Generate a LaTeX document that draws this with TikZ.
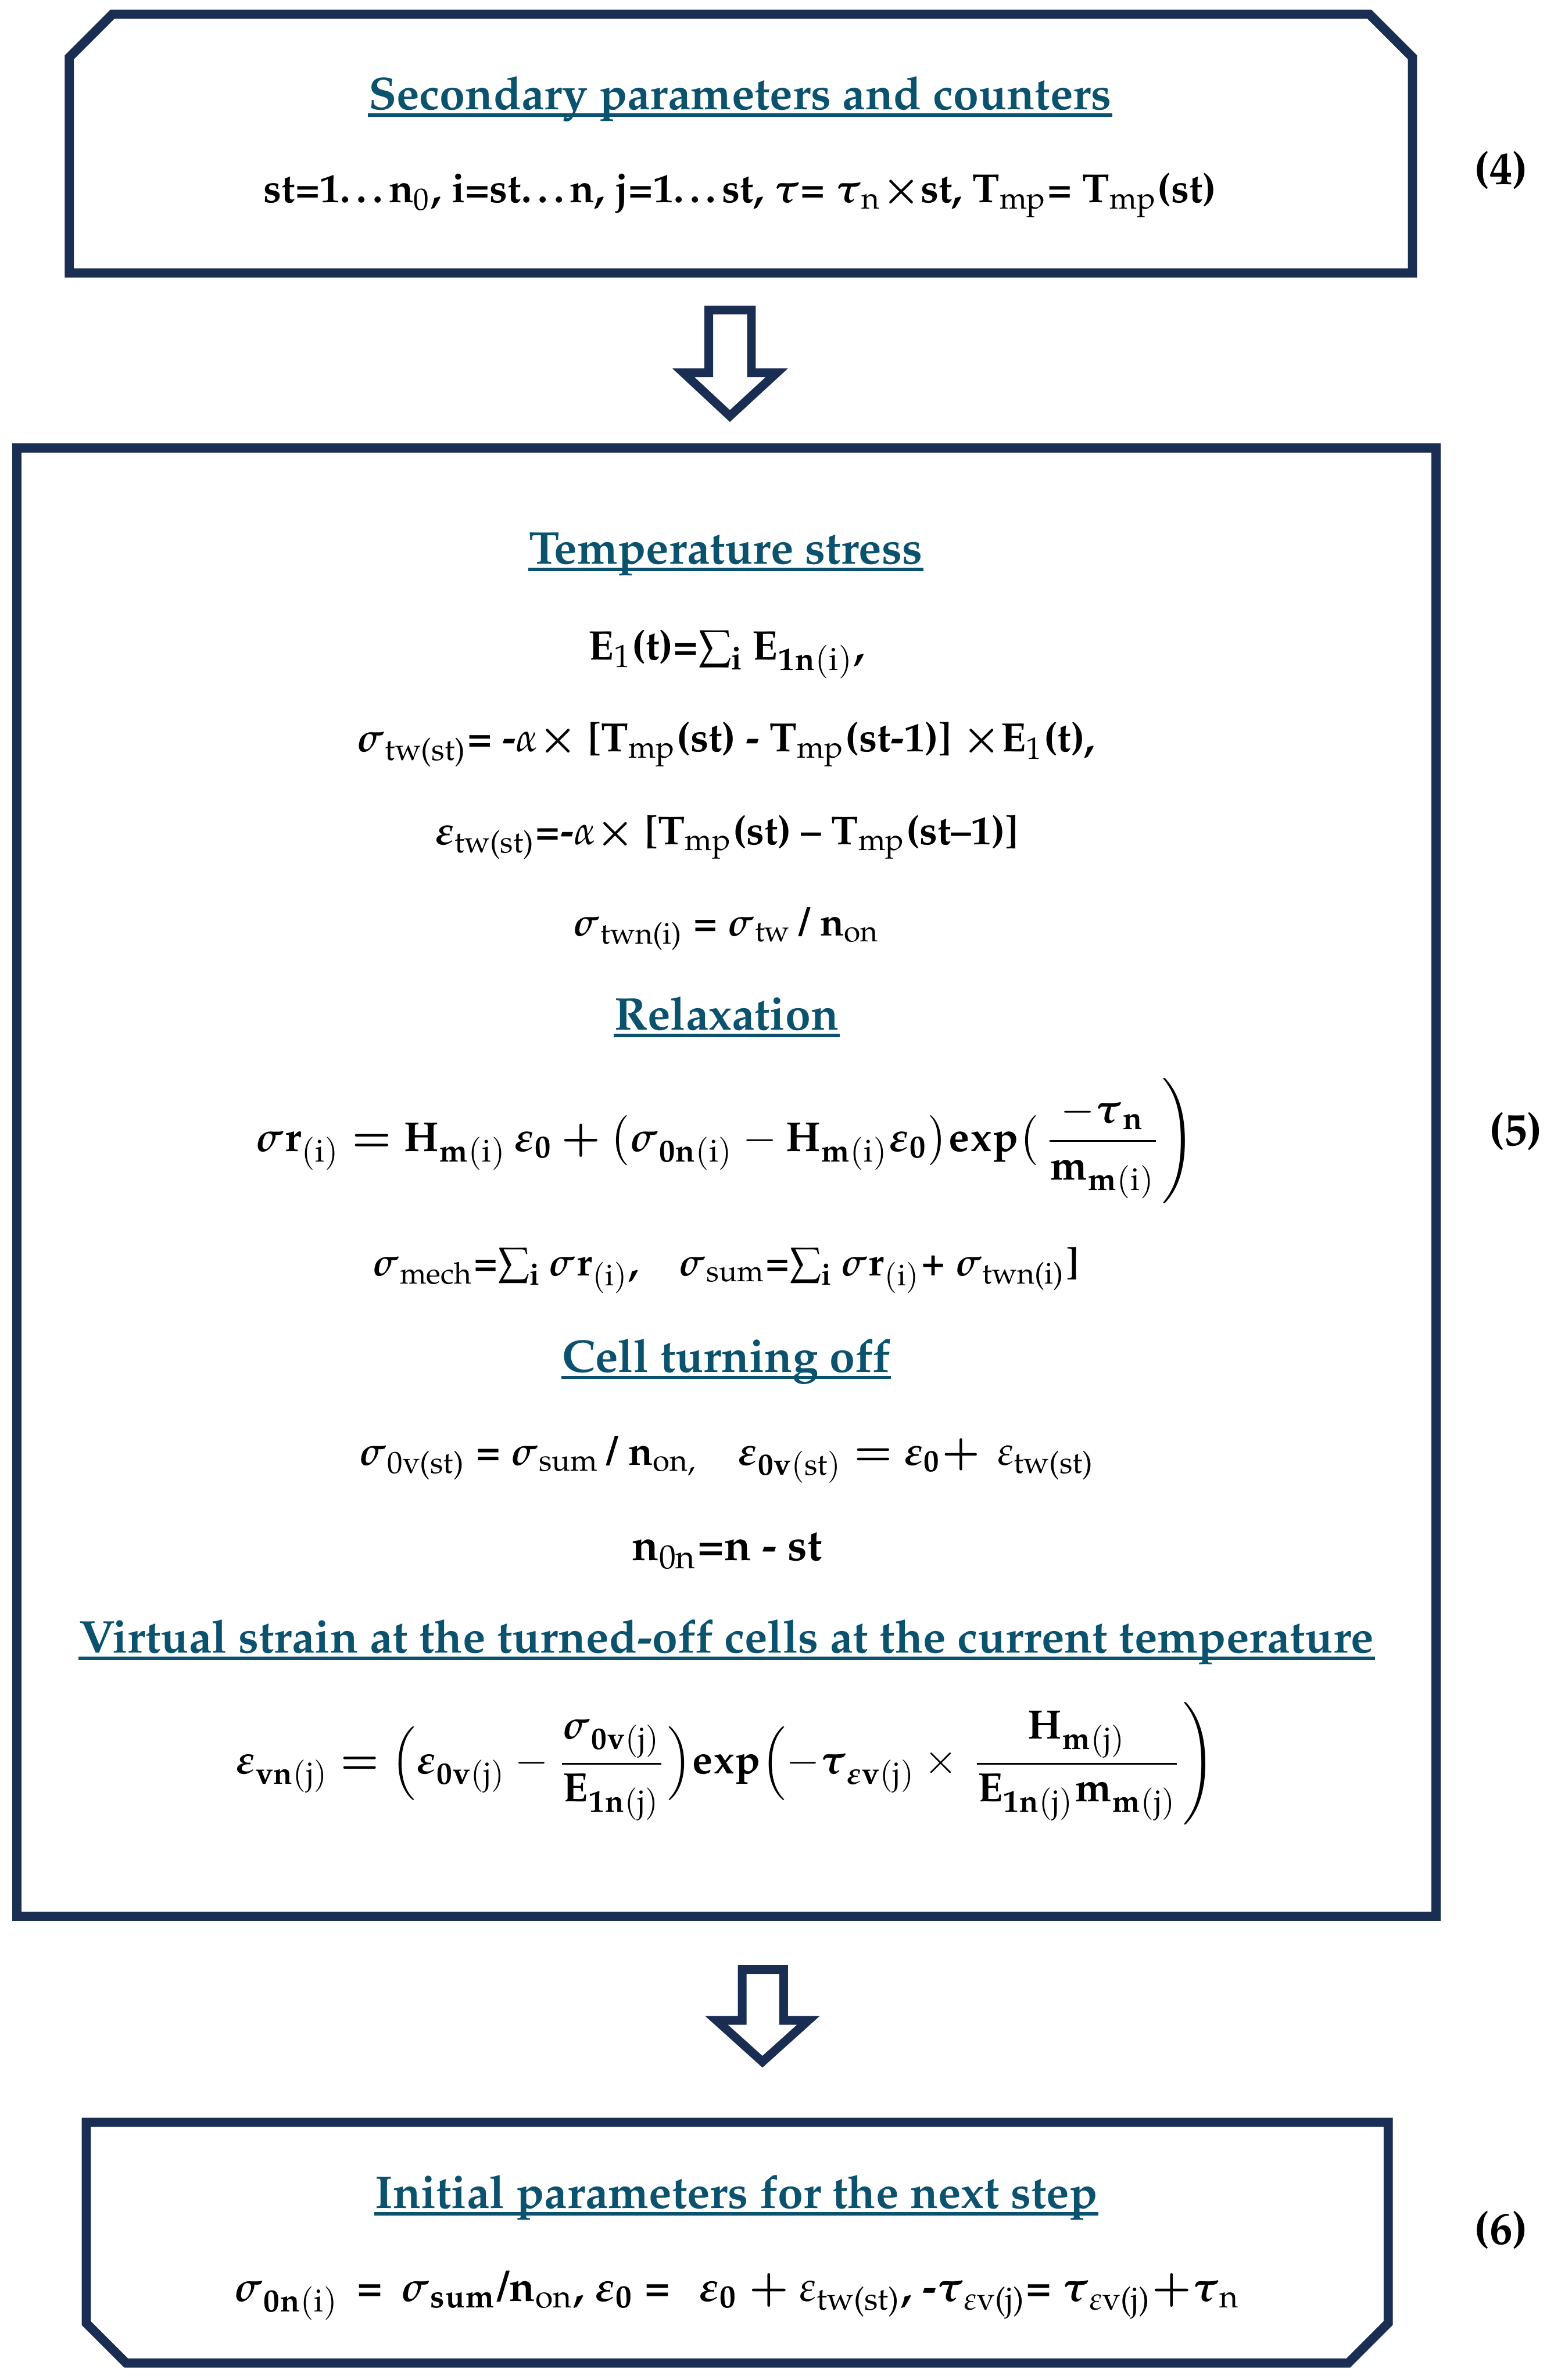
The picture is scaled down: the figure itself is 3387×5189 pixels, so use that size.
\documentclass[tikz,border=0pt]{standalone}
\usepackage[T1]{fontenc}
\usepackage{mathpazo}
\usepackage{amsmath}
\definecolor{navy}{RGB}{26,45,82}
\definecolor{tealtitle}{RGB}{11,82,110}
\newcommand\sbs[1]{\textsubscript{\mdseries #1}}
\newcommand\Sg{\ensuremath{\boldsymbol{\sigma}}}
\newcommand\Ep{\ensuremath{\boldsymbol{\varepsilon}}}
\newcommand\Ta{\ensuremath{\boldsymbol{\tau}}}
\tikzset{
  boxline/.style={draw=navy, line width=2pt, line join=miter},
  ttl/.style={anchor=base, inner sep=0pt, text=tealtitle, font=\fontsize{10}{12}\selectfont\bfseries},
  eqn/.style={anchor=base, inner sep=0pt, font=\fontsize{#1}{12}\selectfont\bfseries},
  eqn/.default=9,
  dispeq/.style={anchor=center, inner sep=0pt, font=\fontsize{#1}{12}\selectfont\bfseries},
  dispeq/.default=9,
  uline/.style={draw=tealtitle, line width=0.75pt},
  blockarrow/.style={draw=navy, line width=1.9pt, fill=white, line join=miter},
  eqno/.style={anchor=center, inner sep=0pt, font=\fontsize{10}{12}\selectfont\bfseries}
}
\begin{document}
\begin{tikzpicture}[x=0.1pt, y=-0.1pt]
\useasboundingbox (0,0) rectangle (3387,5189);

% ---------- Box 1 ----------
\draw[boxline] (151,595) -- (151,125) -- (245,31) -- (2985,31) -- (3079,125) -- (3079,595) -- cycle;
\node[ttl] (t1) at (1613,239) {Secondary parameters and counters};
\draw[uline] ([yshift=-1.2pt]t1.base west) -- ([yshift=-1.2pt]t1.base east);
\node[eqn=8.85] (f1) at (1613,442) {st=1\ldots n\sbs{0}, i=st\ldots n, j=1\ldots st, \Ta= \Ta\sbs{n}$\boldsymbol{\times}$st, T\sbs{mp}= T\sbs{mp}(st)};
\node[eqno] (n4) at (3272,372) {(4)};

% ---------- Arrow 1 ----------
\draw[blockarrow] (1545,676) -- (1638,676) -- (1638,813) -- (1693,813) -- (1591,907) -- (1490,813) -- (1545,813) -- cycle;

% ---------- Box 2 ----------
\draw[boxline] (37,977) rectangle (3130,4178);

\node[ttl] (t2) at (1582,1229) {Temperature stress};
\draw[uline] ([yshift=-1.2pt]t2.base west) -- ([yshift=-1.2pt]t2.base east);
\node[eqn=9] (e1) at (1584,1438) {E\sbs{1}(t)=$\sum_{\mathbf{i}}$\,$\mathbf{E}_{\mathbf{1n}\mathrm{(i)}}$,};
\node[eqn=8.9] (e2) at (1582,1639) {\Sg\sbs{tw(st)}= -$\alpha\boldsymbol{\times}$ [T\sbs{mp}(st) - T\sbs{mp}(st-1)] $\boldsymbol{\times}$E\sbs{1}(t),};
\node[eqn=8.8] (e3) at (1584,1841) {\Ep\sbs{tw(st)}=-$\alpha\boldsymbol{\times}$ [T\sbs{mp}(st) -- T\sbs{mp}(st--1)]};
\node[eqn=8.6] (e4) at (1584,2040) {\Sg\sbs{twn(i)} = \Sg\sbs{tw}\,/ n\sbs{on}};

\node[ttl] (t3) at (1584,2245) {Relaxation};
\draw[uline] ([yshift=-1.2pt]t3.base west) -- ([yshift=-1.2pt]t3.base east);
\node[dispeq=9.1] (r1) at (1581,2487) {$\displaystyle \boldsymbol{\sigma}\mathbf{r}_{\mathrm{(i)}} \boldsymbol{=} \mathbf{H}_{\mathbf{m}\mathrm{(i)}}\,\boldsymbol{\varepsilon}_{\mathbf{0}} \boldsymbol{+} \bigl(\boldsymbol{\sigma}_{\mathbf{0n}\mathrm{(i)}} - \mathbf{H}_{\mathbf{m}\mathrm{(i)}}\boldsymbol{\varepsilon}_{\mathbf{0}}\bigr)\mathbf{exp}\bigl(\left.\frac{-\boldsymbol{\tau}_{\mathbf{n}}}{\mathbf{m}_{\mathbf{m}\mathrm{(i)}}}\right)$};
\node[eqn=8.6] (r2) at (1582,2781) {\Sg\sbs{mech}=$\sum_{\mathbf{i}}\boldsymbol{\sigma}\mathbf{r}_{\mathrm{(i)}}$,\quad \Sg\sbs{sum}=$\sum_{\mathbf{i}}\boldsymbol{\sigma}\mathbf{r}_{\mathrm{(i)}}$+ \Sg\sbs{twn(i)}]};

\node[ttl] (t4) at (1583,2991) {Cell turning off};
\draw[uline] ([yshift=-1.2pt]t4.base west) -- ([yshift=-1.2pt]t4.base east);
\node[eqn=8.8] (c1) at (1585,3194) {\Sg\sbs{0v(st)} = \Sg\sbs{sum}\,/ n\sbs{on,}\quad $\boldsymbol{\varepsilon}_{\mathbf{0v}\mathrm{(st)}} \boldsymbol{=} \boldsymbol{\varepsilon}_{\mathbf{0}} \boldsymbol{+}$\, $\varepsilon$\sbs{tw(st)}};
\node[eqn=9.6] (c2) at (1585,3402) {n\sbs{0n}=n - st};

\node[ttl] (t5) at (1584,3603) {Virtual strain at the turned-off cells at the current temperature};
\draw[uline] ([yshift=-1.2pt]t5.base west) -- ([yshift=-1.2pt]t5.base east);
\node[dispeq=8.9] (v1) at (1582,3845) {$\displaystyle \boldsymbol{\varepsilon}_{\mathbf{vn}\mathrm{(j)}} \boldsymbol{=} \Bigl(\boldsymbol{\varepsilon}_{\mathbf{0v}\mathrm{(j)}} - \frac{\boldsymbol{\sigma}_{\mathbf{0v}\mathrm{(j)}}}{\mathbf{E}_{\mathbf{1n}\mathrm{(j)}}}\Bigr)\mathbf{exp}\Bigl(-\boldsymbol{\tau}_{\boldsymbol{\varepsilon}\mathbf{v}\mathrm{(j)}}\times\left.\frac{\mathbf{H}_{\mathbf{m}\mathrm{(j)}}}{\mathbf{E}_{\mathbf{1n}\mathrm{(j)}}\mathbf{m}_{\mathbf{m}\mathrm{(j)}}}\right)$};
\node[eqno] (n5) at (3304,2467) {(5)};

% ---------- Arrow 2 ----------
\draw[blockarrow] (1618,4294) -- (1708,4294) -- (1708,4405) -- (1762,4405) -- (1662,4495) -- (1562,4405) -- (1618,4405) -- cycle;

% ---------- Box 3 ----------
\draw[boxline] (188,4627) -- (3026,4627) -- (3026,5065) -- (2939,5152) -- (275,5152) -- (188,5065) -- cycle;
\node[ttl] (t6) at (1605,4815) {Initial parameters for the next step};
\draw[uline] ([yshift=-1.2pt]t6.base west) -- ([yshift=-1.2pt]t6.base east);
\node[eqn=9.2] (g1) at (1607,5017) {$\boldsymbol{\sigma}_{\mathbf{0n}\mathrm{(i)}}$ \,=\, $\boldsymbol{\sigma}_{\mathbf{sum}}$/n\sbs{on}, $\boldsymbol{\varepsilon}_{\mathbf{0}}$ = \, $\boldsymbol{\varepsilon}_{\mathbf{0}}$ $\boldsymbol{+}$ $\varepsilon$\sbs{tw(st)}, -\Ta\sbs{$\varepsilon$v(j)}= \Ta\sbs{$\varepsilon$v(j)}$\boldsymbol{+}$\Ta\sbs{n}};
\node[eqno] (n6) at (3272,4862) {(6)};
\end{tikzpicture}
\end{document}
